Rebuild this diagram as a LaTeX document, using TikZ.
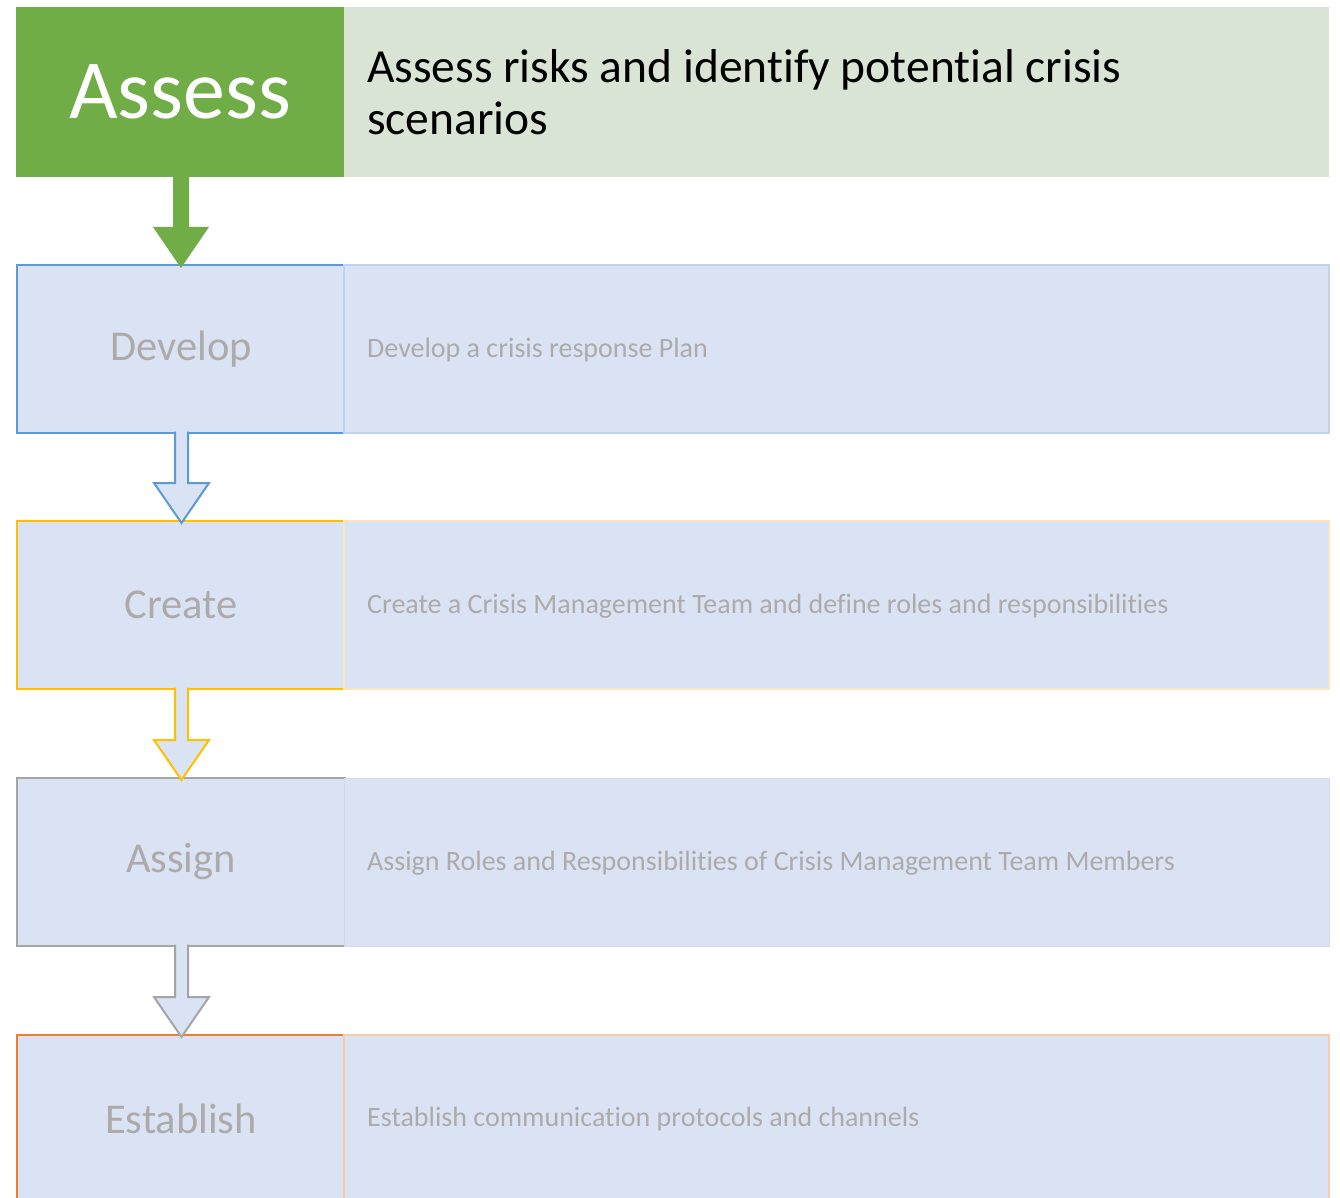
\documentclass[tikz,border=0pt]{standalone}
\usepackage{fontspec}
\setmainfont{Carlito}[RawFeature=-liga, RawFeature=-clig, RawFeature=-calt]
\usetikzlibrary{calc}

\definecolor{stepgreen}{HTML}{70AD47}
\definecolor{panelgreen}{HTML}{D9E4D4}
\definecolor{boxfill}{HTML}{DAE3F3}
\definecolor{stepblue}{HTML}{5B9BD5}
\definecolor{paleblue}{HTML}{C3D3EE}
\definecolor{stepgold}{HTML}{FFC000}
\definecolor{palegold}{HTML}{FCE3C2}
\definecolor{stepgray}{HTML}{A5A5A5}
\definecolor{palegray}{HTML}{D3DAE6}
\definecolor{steporange}{HTML}{ED7D31}
\definecolor{paleorange}{HTML}{F8CBAD}
\definecolor{labelgray}{HTML}{AEAAAA}

\tikzset{
  labelbox/.style={rectangle, anchor=north west, minimum width=328pt,
    minimum height=#1, inner sep=0pt, outer sep=0pt},
  detailbox/.style={rectangle, anchor=north west, minimum width=985pt,
    minimum height=#1, inner sep=0pt, outer sep=0pt},
  labeltext/.style={font=\fontsize{42.5}{50}\selectfont, text=labelgray},
  detailtext/.style={font=\fontsize{28}{33}\selectfont, text=labelgray, anchor=west,
    inner sep=0pt},
  hollowarrow/.style={fill=boxfill, draw=#1, line width=2pt, line join=miter},
}

% hollow block arrow running from the bottom of one label box into the next
\newcommand\stepconnector[3]{%
  \path[hollowarrow=#3]
    ($(#2.north |- #1.south)+(-6,-1.5)$) -- ($(#2.north)+(-6,-38)$) --
    ($(#2.north)+(-27,-38)$) -- ($(#2.north)+(0.5,2)$) --
    ($(#2.north)+(28,-38)$) -- ($(#2.north)+(7,-38)$) --
    ($(#2.north |- #1.south)+(7,-1.5)$);
}

\begin{document}
\begin{tikzpicture}[x=1pt, y=-1pt]
\useasboundingbox (0,0) rectangle (1340,1198);
\clip (0,0) rectangle (1340,1198);

% header row
\node[labelbox=170pt, fill=stepgreen] (assess) at (16,7) {};
\node[detailbox=170pt, fill=panelgreen] (assessinfo) at (344,7) {};
\node[font=\fontsize{84}{100}\selectfont, text=white] at (assess.center) {Assess};
\node[anchor=west, align=left, inner sep=0pt, font=\fontsize{47.5}{52}\selectfont, text=black]
  (assesstext) at ($(assessinfo.west)+(23,0)$)
  {Assess risks and identify potential crisis\\scenarios};

% step rows
\node[labelbox=168pt, fill=boxfill, draw=stepblue, line width=2pt] (develop) at (17,265) {};
\node[detailbox=168pt, fill=boxfill, draw=paleblue, line width=2pt] (developinfo) at (344,265) {};
\node[labeltext] at (develop.center) {Develop};
\node[detailtext] at ($(developinfo.west)+(23,1)$) {Develop a crisis response Plan};

\node[labelbox=168pt, fill=boxfill, draw=stepgold, line width=2pt] (create) at (17,521) {};
\node[detailbox=168pt, fill=boxfill, draw=palegold, line width=2pt] (createinfo) at (344,521) {};
\node[labeltext] at (create.center) {Create};
\node[detailtext] at ($(createinfo.west)+(23,1)$) {Create a Crisis Management Team and define roles and responsibilities};

\node[labelbox=168pt, fill=boxfill, draw=stepgray, line width=2pt] (assign) at (17,778) {};
\node[detailbox=168pt, fill=boxfill, draw=palegray, line width=1pt] (assigninfo) at (344,778) {};
\node[labeltext] at (assign.center) {Assign};
\node[detailtext] at ($(assigninfo.west)+(23,1)$) {Assign Roles and Responsibilities of Crisis Management Team Members};

\node[labelbox=200pt, fill=boxfill, draw=steporange, line width=2pt] (establish) at (17,1035) {};
\node[detailbox=200pt, fill=boxfill, draw=paleorange, line width=2pt] (establishinfo) at (344,1035) {};
\node[labeltext] at ($(establish.north)+(0,84)$) {Establish};
\node[detailtext] at ($(establishinfo.north west)+(23,84)$) {Establish communication protocols and channels};

% solid arrow out of the header
\fill[stepgreen]
  ($(develop.north |- assess.south)+(-8,0)$) -- ($(develop.north)+(-8,-38)$) --
  ($(develop.north)+(-28,-38)$) -- ($(develop.north)+(0,3)$) --
  ($(develop.north)+(28,-38)$) -- ($(develop.north)+(8,-38)$) --
  ($(develop.north |- assess.south)+(8,0)$) -- cycle;

% hollow arrows between the steps
\stepconnector{develop}{create}{stepblue}
\stepconnector{create}{assign}{stepgold}
\stepconnector{assign}{establish}{stepgray}
\end{tikzpicture}
\end{document}
